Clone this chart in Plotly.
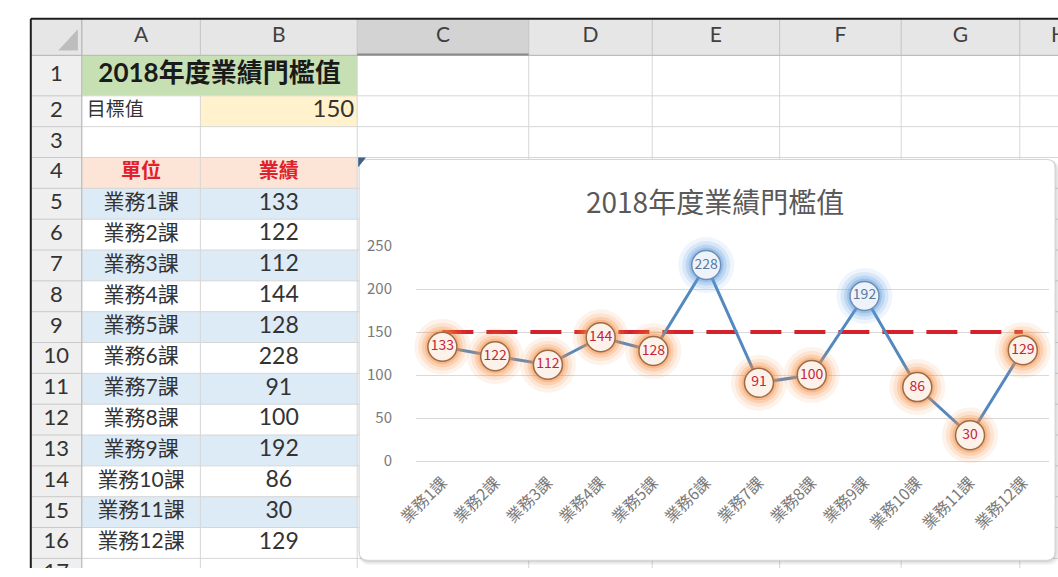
import plotly.graph_objects as go

# ---------------- data ----------------
sheet_title = "2018年度業績門檻值"
target_label = "目標值"
target_value = 150
header_unit = "單位"
header_sales = "業績"
units = ["業務1課", "業務2課", "業務3課", "業務4課", "業務5課", "業務6課",
         "業務7課", "業務8課", "業務9課", "業務10課", "業務11課", "業務12課"]
sales = [133, 122, 112, 144, 128, 228, 91, 100, 192, 86, 30, 129]
col_letters = ["A", "B", "C", "D", "E", "F", "G", "H"]
row_numbers = list(range(1, 18))
y_ticks = [0, 50, 100, 150, 200, 250]
chart_title = "2018年度業績門檻值"

# ---------------- geometry / styles (pixels of the sheet canvas) ----------------
W, H = 1058, 577
FRAME_X, FRAME_Y = 10, 7
HDR_BOTTOM = 45
ROWHDR_RIGHT = 62
col_w = [121, 160, 175, 126, 130, 124, 121, 80]
row_h = [42] + [32] * 16

col_edges = [ROWHDR_RIGHT]
for w in col_w:
    col_edges.append(col_edges[-1] + w)
row_edges = [HDR_BOTTOM]
for h in row_h:
    row_edges.append(row_edges[-1] + h)

def col_mid(i):
    return (col_edges[i] + col_edges[i + 1]) / 2

def row_mid(r):  # r is 1-based Excel row
    return (row_edges[r - 1] + row_edges[r]) / 2

UI_FONT = "Lato, Noto Sans CJK TC, sans-serif"
CJK_FONT = "Noto Sans CJK TC, sans-serif"

shapes = []

def rect(x0, y0, x1, y1, fill, xr="x", yr="y"):
    shapes.append(dict(type="rect", xref=xr, yref=yr, x0=x0, y0=y0, x1=x1, y1=y1,
                       fillcolor=fill, line=dict(width=0), layer="below"))

def line(x0, y0, x1, y1, color, width=1, xr="x", yr="y"):
    shapes.append(dict(type="line", xref=xr, yref=yr, x0=x0, y0=y0, x1=x1, y1=y1,
                       line=dict(color=color, width=width), layer="below"))

def rrect_path(x0, y0, x1, y1, r):
    return (f"M{x0 + r},{y0} L{x1 - r},{y0} Q{x1},{y0} {x1},{y0 + r} "
            f"L{x1},{y1 - r} Q{x1},{y1} {x1 - r},{y1} L{x0 + r},{y1} "
            f"Q{x0},{y1} {x0},{y1 - r} L{x0},{y0 + r} Q{x0},{y0} {x0 + r},{y0} Z")

# ---- sheet fills ----
rect(FRAME_X, FRAME_Y, W + 30, HDR_BOTTOM, "#e6e6e6")
rect(col_edges[2], FRAME_Y, col_edges[3], HDR_BOTTOM, "#d3d3d3")
rect(FRAME_X, HDR_BOTTOM, ROWHDR_RIGHT, H + 30, "#efefef")
rect(col_edges[0], row_edges[0], col_edges[2], row_edges[1], "#c6e0b4")   # A1:B1
rect(col_edges[1], row_edges[1], col_edges[2], row_edges[2], "#fff2cc")   # B2
rect(col_edges[0], row_edges[3], col_edges[2], row_edges[4], "#fce4d6")   # A4:B4
for k in range(len(units)):
    r = 5 + k
    if r % 2 == 1:
        rect(col_edges[0], row_edges[r - 1], col_edges[2], row_edges[r], "#ddebf7")

# ---- sheet grid ----
for i, xe in enumerate(col_edges):
    line(xe, FRAME_Y, xe, HDR_BOTTOM, "#c4c4c4")
    if i == 1:
        line(xe, row_edges[1], xe, H + 30, "#d6d6d6")
    else:
        line(xe, HDR_BOTTOM, xe, H + 30, "#d6d6d6")
for j, ye in enumerate(row_edges):
    line(FRAME_X, ye, ROWHDR_RIGHT, ye, "#c9c9c9")
    line(ROWHDR_RIGHT, ye, W + 30, ye, "#d6d6d6")
line(FRAME_X, HDR_BOTTOM, W + 30, HDR_BOTTOM, "#b8b8b8")
line(ROWHDR_RIGHT, FRAME_Y, ROWHDR_RIGHT, H + 30, "#b8b8b8")
line(col_edges[2], HDR_BOTTOM - 1, col_edges[3], HDR_BOTTOM - 1, "#8a8a8a", 2)
# corner triangle
shapes.append(dict(type="path", xref="x", yref="y", layer="below",
                   path="M38,40 L58,40 L58,18 Z", fillcolor="#bdbdbd", line=dict(width=0)))
# outer frame
line(FRAME_X, FRAME_Y, W + 30, FRAME_Y, "#1e1e1e", 2)
line(FRAME_X, FRAME_Y, FRAME_X, H + 30, "#1e1e1e", 2)

# ---- chart box (on its own overlay canvas x2/y2, above the sheet) ----
CX0, CY0, CX1, CY1, CR = 345, 153, 1055, 569, 9
for dx, dy, a in [(4, 5, 0.035), (3, 3.5, 0.05), (1.5, 2, 0.07)]:
    shapes.append(dict(type="path", xref="x2", yref="y2", layer="below",
                       path=rrect_path(CX0 - 1 + dx * 0.3, CY0 - 1 + dy * 0.3, CX1 + dx, CY1 + dy, CR + 2),
                       fillcolor=f"rgba(0,0,0,{a})", line=dict(width=0)))
shapes.append(dict(type="path", xref="x2", yref="y2", layer="below",
                   path=rrect_path(CX0, CY0, CX1, CY1, CR),
                   fillcolor="#ffffff", line=dict(color="#d4d4d4", width=1)))
shapes.append(dict(type="path", xref="x2", yref="y2", layer="below",
                   path=f"M{CX0 - 1},{CY0 - 2} L{CX0 + 7},{CY0 - 2} L{CX0 - 1},{CY0 + 8} Z",
                   fillcolor="#3f5f86", line=dict(width=0)))

fig = go.Figure()

# ---- sheet texts (x/y canvas) ----
fig.add_trace(go.Scatter(
    x=[col_mid(i) for i in range(len(col_letters))], y=[(FRAME_Y + HDR_BOTTOM) / 2] * len(col_letters),
    text=col_letters, mode="text", textposition="middle center",
    textfont=dict(family=UI_FONT, size=21, color="#404040"), hoverinfo="skip", xaxis="x", yaxis="y"))
fig.add_trace(go.Scatter(
    x=[(FRAME_X + ROWHDR_RIGHT) / 2] * len(row_numbers), y=[row_mid(r) for r in row_numbers],
    text=[str(r) for r in row_numbers], mode="text", textposition="middle center",
    textfont=dict(family=UI_FONT, size=22, color="#333333"), hoverinfo="skip", xaxis="x", yaxis="y"))
fig.add_trace(go.Scatter(
    x=[(col_edges[0] + col_edges[2]) / 2], y=[row_mid(1)], text=[f"<b>{sheet_title}</b>"],
    mode="text", textposition="middle center",
    textfont=dict(family=UI_FONT, size=26, color="#1a1a1a"), hoverinfo="skip", xaxis="x", yaxis="y"))
fig.add_trace(go.Scatter(
    x=[col_edges[0] + 5], y=[row_mid(2)], text=[target_label], mode="text", textposition="middle right",
    textfont=dict(family=UI_FONT, size=19, color="#333333"), hoverinfo="skip", xaxis="x", yaxis="y"))
fig.add_trace(go.Scatter(
    x=[col_edges[2] - 3], y=[row_mid(2)], text=[str(target_value)], mode="text", textposition="middle left",
    textfont=dict(family=UI_FONT, size=24, color="#333333"), hoverinfo="skip", xaxis="x", yaxis="y"))
fig.add_trace(go.Scatter(
    x=[col_mid(0), col_mid(1)], y=[row_mid(4)] * 2, text=[f"<b>{header_unit}</b>", f"<b>{header_sales}</b>"],
    mode="text", textposition="middle center",
    textfont=dict(family=UI_FONT, size=20, color="#e0202a"), hoverinfo="skip", xaxis="x", yaxis="y"))
fig.add_trace(go.Scatter(
    x=[col_mid(0)] * len(units), y=[row_mid(5 + k) for k in range(len(units))],
    text=units, mode="text", textposition="middle center",
    textfont=dict(family=UI_FONT, size=21, color="#333333"), hoverinfo="skip", xaxis="x", yaxis="y"))
fig.add_trace(go.Scatter(
    x=[col_mid(1)] * len(sales), y=[row_mid(5 + k) for k in range(len(sales))],
    text=[str(v) for v in sales], mode="text", textposition="middle center",
    textfont=dict(family=UI_FONT, size=23, color="#333333"), hoverinfo="skip", xaxis="x", yaxis="y"))

# dummy trace so the x2/y2 overlay canvas exists
fig.add_trace(go.Scatter(x=[0], y=[0], mode="markers", marker=dict(opacity=0),
                         hoverinfo="skip", xaxis="x2", yaxis="y2"))

# ---- chart (x3/y3) ----
above = [v > target_value for v in sales]
fig.add_trace(go.Scatter(
    x=units, y=[target_value] * len(units), mode="lines",
    line=dict(color="#d4222a", width=4, dash="31px,13px"),
    hoverinfo="skip", xaxis="x3", yaxis="y3", cliponaxis=False))
fig.add_trace(go.Scatter(
    x=units, y=sales, mode="lines", line=dict(color="#5389bf", width=3),
    hoverinfo="skip", xaxis="x3", yaxis="y3", cliponaxis=False))
for size, alpha in [(56, 0.10), (48, 0.15), (41, 0.22), (35, 0.33)]:
    cols = [f"rgba(91,155,225,{alpha})" if a else f"rgba(247,140,60,{alpha})" for a in above]
    fig.add_trace(go.Scatter(
        x=units, y=sales, mode="markers",
        marker=dict(size=size, color=cols, line=dict(width=0)),
        hoverinfo="skip", xaxis="x3", yaxis="y3", cliponaxis=False))
fig.add_trace(go.Scatter(
    x=units, y=sales, mode="markers+text", text=[str(v) for v in sales],
    textposition="middle center",
    textfont=dict(family=CJK_FONT, size=14,
                  color=["#5878a4" if a else "#c3263c" for a in above]),
    marker=dict(size=29, color=["#eef3fa" if a else "#fdf2ea" for a in above],
                line=dict(width=1.5, color=["#6f8db2" if a else "#9c6b48" for a in above])),
    hoverinfo="skip", xaxis="x3", yaxis="y3", cliponaxis=False))

PLOT_L, PLOT_R, PLOT_T, PLOT_B = 403, 1049, 243, 466

fig.update_layout(
    width=W, height=H, margin=dict(l=0, r=0, t=0, b=0),
    paper_bgcolor="#ffffff", plot_bgcolor="rgba(0,0,0,0)", showlegend=False,
    shapes=shapes,
    xaxis=dict(domain=[0, 1], range=[0, W], visible=False, fixedrange=True),
    yaxis=dict(domain=[0, 1], range=[H, 0], visible=False, fixedrange=True),
    xaxis2=dict(domain=[0, 1], range=[0, W], visible=False, fixedrange=True, anchor="y2"),
    yaxis2=dict(domain=[0, 1], range=[H, 0], visible=False, fixedrange=True, anchor="x2"),
    xaxis3=dict(domain=[PLOT_L / W, PLOT_R / W], anchor="y3", type="category",
                categoryorder="array", categoryarray=units, range=[-0.5, len(units) - 0.5],
                showgrid=False, zeroline=False, showline=False, tickangle=-45,
                ticks="outside", ticklen=5, tickcolor="rgba(0,0,0,0)",
                tickfont=dict(family=CJK_FONT, size=16, color="#7a7a7a"), fixedrange=True),
    yaxis3=dict(domain=[(H - PLOT_B) / H, (H - PLOT_T) / H], anchor="x3",
                range=[0, 250], tickvals=y_ticks, showgrid=True, gridcolor="#d9d9d9", gridwidth=1,
                zeroline=True, zerolinecolor="#d9d9d9", zerolinewidth=1, showline=False,
                ticks="outside", ticklen=20, tickcolor="rgba(0,0,0,0)",
                tickfont=dict(family=CJK_FONT, size=15, color="#7a7a7a"), fixedrange=True),
    annotations=[dict(text=chart_title, xref="paper", yref="paper",
                      x=708 / W, y=(H - 196) / H, xanchor="center", yanchor="middle",
                      showarrow=False, font=dict(family=CJK_FONT, size=28, color="#595959"))],
)

fig.write_html("out.html", config={"displayModeBar": False},
               post_script="document.body.style.margin='0';document.body.style.overflow='hidden';")
